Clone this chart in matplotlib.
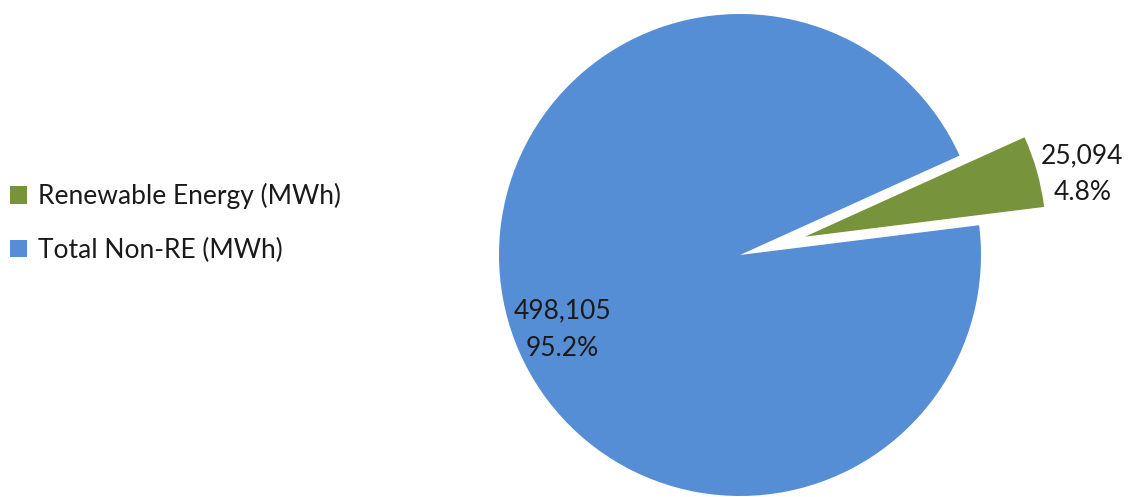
import numpy as np
import matplotlib
matplotlib.use("Agg")
import matplotlib.pyplot as plt

plt.rcParams['font.family'] = ['Lato', 'DejaVu Sans']

labels = ["Renewable Energy (MWh)", "Total Non-RE (MWh)"]
values = [25094, 498105]
colors = ["#77933C", "#558ED5"]
explode = [0.28, 0]


def fmt(pct):
    val = int(round(pct * sum(values) / 100.0))
    return "{:,}\n{:.1f}%".format(val, pct)


fig = plt.figure(figsize=(11.32, 4.97), dpi=100)
W, H = 1132, 497
r = 241
cx, cy = 740, 242
ax = fig.add_axes([(cx - r) / W, (cy - r) / H, 2 * r / W, 2 * r / H])

wedges, texts, autotexts = ax.pie(values, colors=colors, explode=explode,
                                  startangle=7.1, counterclock=True,
                                  autopct=fmt, pctdistance=0.8,
                                  textprops={'fontsize': 19, 'color': '#1a1a1a',
                                             'linespacing': 1.6},
                                  wedgeprops={'linewidth': 0})
ax.set_xlim(-1, 1)
ax.set_ylim(-1, 1)
ax.set_aspect('equal')
ax.axis('off')
for w in wedges:
    w.set_clip_on(False)

# move labels: green outside, blue a bit lower
for w, t, dist, dang in zip(wedges, autotexts, [1.18, 0.8], [-3, 7]):
    ang = np.deg2rad((w.theta1 + w.theta2) / 2 + dang)
    x0, y0 = w.center
    t.set_position((x0 + dist * np.cos(ang), y0 + dist * np.sin(ang)))
    t.set_clip_on(False)

fig.legend(wedges, labels, loc='center left',
           bbox_to_anchor=(10 / W, (H - 223) / H), frameon=False,
           fontsize=19, handlelength=0.65, handleheight=0.65,
           handletextpad=0.4, labelspacing=1.07, borderpad=0,
           borderaxespad=0, labelcolor='#1a1a1a')

fig.savefig("out.png", dpi=100)
